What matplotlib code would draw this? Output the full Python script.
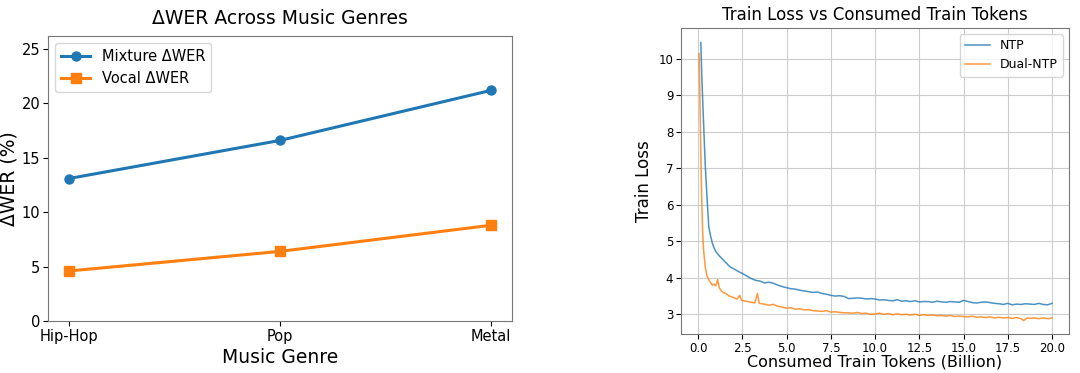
import matplotlib.pyplot as plt

# left panel: delta WER per genre
genres = ['Hip-Hop', 'Pop', 'Metal']
mixture_dwer = [13.1, 16.6, 21.2]
vocal_dwer = [4.6, 6.4, 8.8]

# right panel: train loss curves (billion tokens -> loss)
ntp_tokens = [0.15, 0.2, 0.3, 0.4, 0.5, 0.6, 0.7, 0.8, 0.9, 1.0, 1.2, 1.4, 1.6, 1.8, 2.0,
              2.25, 2.5, 2.75, 3.0, 3.25, 3.5, 3.75, 4.0, 4.25, 4.5, 4.75, 5.0, 5.25, 5.5, 5.75,
              6.0, 6.25, 6.5, 6.75, 7.0, 7.25, 7.5, 7.75, 8.0, 8.25, 8.5, 8.75, 9.0, 9.25, 9.5,
              9.75, 10.0, 10.25, 10.5, 10.75, 11.0, 11.25, 11.5, 11.75, 12.0, 12.25, 12.5, 12.75,
              13.0, 13.25, 13.5, 13.75, 14.0, 14.25, 14.5, 14.75, 15.0, 15.25, 15.5, 15.75, 16.0,
              16.25, 16.5, 16.75, 17.0, 17.25, 17.5, 17.75, 18.0, 18.25, 18.5, 18.75, 19.0, 19.25,
              19.5, 19.75, 20.0]
ntp_loss = [10.45, 9.6, 8.3, 7.1, 6.2, 5.4, 5.15, 4.95, 4.82, 4.72, 4.6, 4.5, 4.4, 4.3, 4.25,
            4.18, 4.12, 4.05, 3.98, 3.93, 3.91, 3.86, 3.88, 3.85, 3.8, 3.76, 3.73, 3.7, 3.69, 3.66,
            3.64, 3.62, 3.6, 3.61, 3.57, 3.55, 3.52, 3.5, 3.51, 3.49, 3.43, 3.44, 3.45, 3.44, 3.42,
            3.43, 3.42, 3.39, 3.4, 3.38, 3.37, 3.4, 3.36, 3.37, 3.35, 3.37, 3.34, 3.35,
            3.35, 3.33, 3.36, 3.34, 3.33, 3.35, 3.34, 3.33, 3.38, 3.35, 3.32, 3.31, 3.33,
            3.34, 3.32, 3.3, 3.29, 3.27, 3.3, 3.26, 3.28, 3.27, 3.29, 3.28, 3.27, 3.3,
            3.27, 3.26, 3.3]

dual_tokens = [0.05, 0.1, 0.15, 0.2, 0.25, 0.3, 0.4, 0.5, 0.6, 0.7, 0.8, 0.9, 1.0, 1.1, 1.2,
               1.3, 1.4, 1.5, 1.6, 1.75, 2.0, 2.2, 2.35, 2.45, 2.6, 2.8, 3.0, 3.2, 3.35, 3.45,
               3.6, 3.8, 4.0, 4.25, 4.5, 4.75, 5.0, 5.25, 5.5, 5.75, 6.0, 6.25, 6.5, 6.75, 7.0,
               7.25, 7.5, 7.75, 8.0, 8.25, 8.5, 8.75, 9.0, 9.25, 9.5, 9.75, 10.0, 10.25, 10.5,
               10.75, 11.0, 11.25, 11.5, 11.75, 12.0, 12.25, 12.5, 12.75, 13.0, 13.25, 13.5,
               13.75, 14.0, 14.25, 14.5, 14.75, 15.0, 15.25, 15.5, 15.75, 16.0, 16.25, 16.5,
               16.75, 17.0, 17.25, 17.5, 17.75, 18.0, 18.25, 18.4, 18.6, 18.75, 19.0, 19.25,
               19.5, 19.75, 20.0]
dual_loss = [10.15, 8.9, 7.4, 6.2, 5.3, 4.8, 4.3, 4.05, 3.95, 3.87, 3.8, 3.83, 3.78, 3.95, 3.72,
             3.65, 3.6, 3.58, 3.56, 3.5, 3.46, 3.42, 3.52, 3.38, 3.37, 3.35, 3.33, 3.31, 3.57, 3.3,
             3.29, 3.27, 3.25, 3.27, 3.22, 3.2, 3.17, 3.18, 3.14, 3.15, 3.12, 3.13, 3.1, 3.09, 3.08,
             3.1, 3.06, 3.07, 3.05, 3.04, 3.04, 3.03, 3.05, 3.02, 3.03, 3.0, 3.01, 3.03, 3.0,
             3.02, 2.99, 3.01, 2.99, 3.0, 2.98, 3.0, 2.97, 2.99, 2.97, 2.98, 2.96,
             2.97, 2.95, 2.97, 2.94, 2.95, 2.94, 2.93, 2.95, 2.92, 2.93, 2.91, 2.93,
             2.9, 2.92, 2.9, 2.91, 2.89, 2.91, 2.88, 2.83, 2.9, 2.89, 2.9, 2.88,
             2.9, 2.88, 2.9]

fig = plt.figure(figsize=(10.8, 3.73), dpi=100)

# ---- left: delta WER ----
ax1 = fig.add_axes([48 / 1080, 52 / 373, 464 / 1080, 285 / 373])
pos = list(range(len(genres)))
ax1.plot(pos, mixture_dwer, marker='o', color='#1f77b4', lw=2.2, ms=6.5, label='Mixture ΔWER')
ax1.plot(pos, vocal_dwer, marker='s', color='#ff7f0e', lw=2.2, ms=6.5, label='Vocal ΔWER')
ax1.set_xticks(pos)
ax1.set_xticklabels(genres)
ax1.set_xlim(-0.1, 2.1)
ax1.set_ylim(0, 26.2)
ax1.set_yticks([0, 5, 10, 15, 20, 25])
ax1.tick_params(labelsize=10.5, pad=2)
ax1.set_title('ΔWER Across Music Genres', fontsize=13.5, pad=9)
ax1.set_xlabel('Music Genre', fontsize=13.5, labelpad=3)
ax1.set_ylabel('ΔWER (%)', fontsize=13.5, labelpad=2)
ax1.legend(loc='upper left', fontsize=10.5)
for s in ax1.spines.values():
    s.set_color('#777777')

# ---- right: train loss ----
ax2 = fig.add_axes([681 / 1080, 39 / 373, 388 / 1080, 306 / 373])
ax2.plot(ntp_tokens, ntp_loss, color='#1f77b4', lw=1.1, alpha=0.8, label='NTP')
ax2.plot(dual_tokens, dual_loss, color='#ff7f0e', lw=1.1, alpha=0.8, label='Dual-NTP')
ax2.set_xlim(-0.97, 20.96)
ax2.set_ylim(2.46, 10.85)
ax2.set_xticks([0, 2.5, 5, 7.5, 10, 12.5, 15, 17.5, 20])
ax2.set_yticks([3, 4, 5, 6, 7, 8, 9, 10])
ax2.grid(True, color='#cccccc', lw=0.8)
ax2.tick_params(labelsize=8.5, pad=2)
ax2.set_title('Train Loss vs Consumed Train Tokens', fontsize=12, pad=6)
ax2.set_xlabel('Consumed Train Tokens (Billion)', fontsize=11.5, labelpad=0)
ax2.set_ylabel('Train Loss', fontsize=12, labelpad=4)
ax2.legend(loc='upper right', fontsize=9)
for s in ax2.spines.values():
    s.set_color('#777777')

fig.savefig('out.png', dpi=100)
